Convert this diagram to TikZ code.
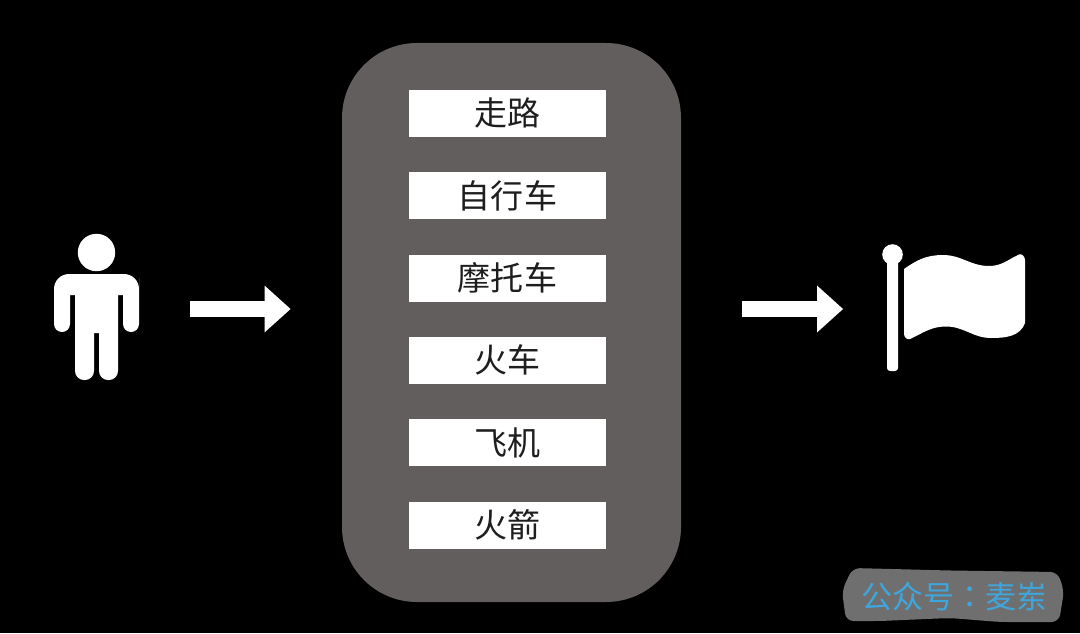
\documentclass[tikz,border=0pt]{standalone}
\usepackage{fontspec}
\usetikzlibrary{arrows.meta}
\setmainfont{Noto Sans CJK SC}
\newfontfamily\markfont{Noto Sans CJK TC}
\definecolor{PanelGray}{HTML}{625E5D}
\definecolor{MarkGray}{HTML}{6F6F6F}
\definecolor{MarkBlue}{HTML}{3FA6DC}
\definecolor{LabelDark}{HTML}{1E1E1E}
\begin{document}
\begin{tikzpicture}[
    panel/.style={rectangle, fill=PanelGray, rounded corners=1.5cm,
                  minimum width=6.78cm, minimum height=11.18cm},
    mode/.style={rectangle, fill=white, text=LabelDark, inner sep=0pt,
                 minimum width=3.94cm, minimum height=0.94cm,
                 align=center, font=\fontsize{18.8}{20}\selectfont},
    anchorbox/.style={rectangle, inner sep=0pt},
    marktext/.style={text=MarkBlue, inner sep=0pt, font=\fontsize{17.7}{19}\selectfont},
    arr/.style={-{Triangle[length=0.52cm,width=0.90cm]}, line width=0.32cm, white},
    icon/.style={fill=white, draw=none}
  ]
    \fill[black] (0,0) rectangle (21.6,12.66);

    \node[panel] (panel) at (10.23,6.21) {};

    \node[mode] (m1) at (10.15,10.40) {走路};
    \node[mode] (m2) at (10.15,8.75) {自行车};
    \node[mode] (m3) at (10.15,7.10) {摩托车};
    \node[mode] (m4) at (10.15,5.46) {火车};
    \node[mode] (m5) at (10.15,3.81) {飞机};
    \node[mode] (m6) at (10.15,2.16) {火箭};

    % person
    \node[anchorbox, minimum width=1.70cm, minimum height=2.90cm] (person) at (1.93,6.48) {};
    \fill[icon] (1.93,7.61) circle (0.374);
    \fill[icon] (1.08,6.80) [rounded corners=0.3cm] -- (1.08,7.18) -- (2.78,7.18) -- (2.78,6.80)
      [rounded corners=0.16cm] -- (2.78,6.02) -- (2.46,6.02) [sharp corners] -- (2.46,6.76)
      -- (2.36,6.76) [rounded corners=0.18cm] -- (2.36,5.06) -- (1.98,5.06) [sharp corners]
      -- (1.98,6.00) -- (1.88,6.00) [rounded corners=0.18cm] -- (1.88,5.06) -- (1.50,5.06)
      [sharp corners] -- (1.50,6.76) -- (1.40,6.76) [rounded corners=0.16cm] -- (1.40,6.02)
      -- (1.08,6.02) [sharp corners] -- cycle;

    % flag
    \node[anchorbox, minimum width=2.86cm, minimum height=2.56cm] (flag) at (19.10,6.48) {};
    \fill[icon] (17.74,5.24) [rounded corners=0.06cm] rectangle (17.96,7.50);
    \fill[icon] (17.85,7.57) circle (0.206);
    \fill[icon] (18.08,7.28) to[out=35,in=180] (18.86,7.56) to[out=0,in=180] (19.78,7.34)
      to[out=0,in=205] (20.38,7.57) to[out=25,in=90] (20.50,7.46) -- (20.50,6.20)
      to[out=-110,in=0] (19.82,5.90) to[out=180,in=0] (18.92,6.13) to[out=180,in=25] (18.20,5.88)
      to[out=205,in=-90] (18.08,5.98) -- cycle;

    \draw[arr, shorten <=1.02cm, shorten >=1.02cm] (person.east) -- (person.east -| panel.west);
    \draw[arr, shorten <=1.22cm, shorten >=0.80cm] (person.east -| panel.east) -- (flag.west);

    % watermark
    \fill[MarkGray, rounded corners=0.15cm] (16.84,0.85) -- (17.05,1.30) -- (19.0,1.25)
      -- (21.15,1.22) -- (21.28,0.85) -- (21.18,0.22) -- (20.0,0.22) -- (19.0,0.30)
      -- (17.6,0.24) -- (16.92,0.24) -- cycle;
    \node[marktext] (mark) at (19.09,0.72) {公众号{\markfont ：}麦岽};
  \end{tikzpicture}
\end{document}
